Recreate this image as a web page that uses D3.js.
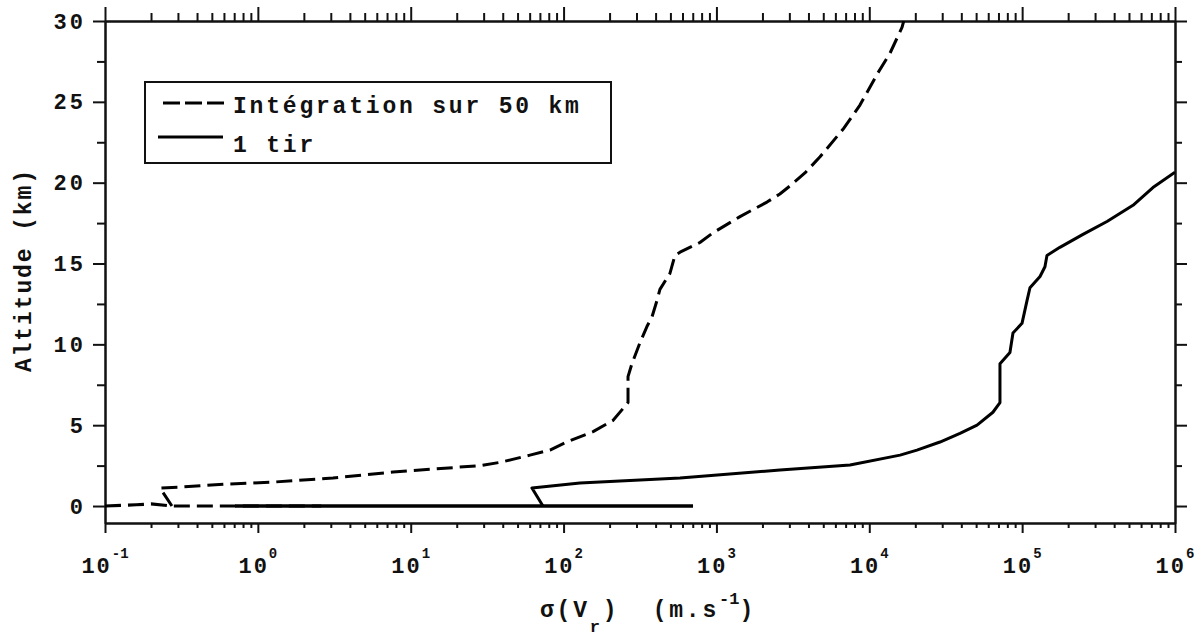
<!DOCTYPE html>
<html><head><meta charset="utf-8">
<script src="https://cdn.jsdelivr.net/npm/d3@7"></script>
<style>
body{margin:0;background:#fff}
svg text{font-family:"Liberation Mono","DejaVu Sans Mono",monospace;font-weight:bold;fill:#111}
</style>
</head><body>
<svg id="chart" width="1203" height="636"></svg>
<script>
// ---- data ----
const xMajorTicks = [0.1, 1, 10, 100, 1000, 1e4, 1e5, 1e6];
const xExponents  = ["-1", "0", "1", "2", "3", "4", "5", "6"];
const yMajorTicks = [0, 5, 10, 15, 20, 25, 30];
const yMinorTicks = [2.5, 7.5, 12.5, 17.5, 22.5, 27.5];
const seriesNames = ["Intégration sur 50 km", "1 tir"];

// "Intégration sur 50 km" (dashed): ground piece + profile
const integGroundSigma = [0.1, 0.16, 0.2, 0.274, 2.6];
const integGroundAlt   = [0.0, 0.08, 0.13, 0.0, 0.0];
const integSigma = [0.274, 0.229, 0.319, 0.628, 1.256, 3.10, 7.66, 28.4, 38.4, 60.3, 81.5, 105, 156, 211, 264, 264, 280, 316, 351, 379, 408, 427, 497, 535, 578, 780, 950, 1426, 2142, 2600, 3027, 3793, 4762, 6730, 8690, 11400, 13650, 16370, 16800];
const integAlt   = [0.0, 1.11, 1.18, 1.36, 1.48, 1.73, 2.1, 2.5, 2.7, 3.15, 3.46, 3.96, 4.6, 5.3, 6.4, 8.0, 8.8, 10.1, 11.1, 11.7, 12.7, 13.4, 14.4, 15.5, 15.7, 16.3, 16.9, 17.9, 18.8, 19.3, 19.8, 20.6, 21.6, 23.3, 24.8, 26.8, 28.0, 29.6, 30.0];

// "1 tir" (solid): ground piece + profile
const tirGroundSigma = [0.71, 38, 703];
const tirGroundAlt   = [0.0, 0.0, 0.0];
const tirSigma = [73.3, 62.1, 128, 578, 2606, 7480, 15900, 20500, 29000, 39200, 50700, 64400, 71600, 71600, 83200, 87100, 99800, 107600, 112500, 130900, 141000, 145300, 176600, 250000, 359000, 531000, 717000, 1000000];
const tirAlt   = [0.0, 1.11, 1.42, 1.73, 2.23, 2.54, 3.15, 3.46, 3.96, 4.5, 5.0, 5.8, 6.4, 8.8, 9.5, 10.7, 11.3, 12.7, 13.5, 14.2, 14.8, 15.5, 16.0, 16.8, 17.6, 18.6, 19.7, 20.65];

// ---- layout ----
const L = 105, R = 1175, T = 21, B = 523;
const svg = d3.select("#chart");
const x = d3.scaleLog().domain([0.1, 1e6]).range([L, R]);
const y = d3.scaleLinear().domain([-1.05, 30]).range([B, T]);

const xMinorTicks = [];
xMajorTicks.slice(0, -1).forEach(d => { for (let k = 2; k <= 9; k++) xMinorTicks.push(d * k); });

function styleAxis(g) {
  g.selectAll("path.domain").attr("stroke", "#111").attr("stroke-width", 2);
  g.selectAll(".tick line").attr("stroke", "#111").attr("stroke-width", 2);
  g.selectAll(".tick text").remove();
}
// bottom
svg.append("g").attr("transform", `translate(0,${B})`)
  .call(d3.axisBottom(x).tickValues(xMajorTicks).tickSize(10).tickSizeOuter(0).tickFormat("")).call(styleAxis);
svg.append("g").attr("transform", `translate(0,${B})`)
  .call(d3.axisBottom(x).tickValues(xMinorTicks).tickSize(5).tickSizeOuter(0).tickFormat("")).call(styleAxis);
// top
svg.append("g").attr("transform", `translate(0,${T})`)
  .call(d3.axisTop(x).tickValues(xMajorTicks).tickSize(14).tickSizeOuter(0).tickFormat("")).call(styleAxis);
svg.append("g").attr("transform", `translate(0,${T})`)
  .call(d3.axisTop(x).tickValues(xMinorTicks).tickSize(8).tickSizeOuter(0).tickFormat("")).call(styleAxis);
// left
svg.append("g").attr("transform", `translate(${L},0)`)
  .call(d3.axisLeft(y).tickValues(yMajorTicks).tickSize(12).tickSizeOuter(0).tickFormat("")).call(styleAxis);
svg.append("g").attr("transform", `translate(${L},0)`)
  .call(d3.axisLeft(y).tickValues(yMinorTicks).tickSize(8).tickSizeOuter(0).tickFormat("")).call(styleAxis);
// right
svg.append("g").attr("transform", `translate(${R},0)`)
  .call(d3.axisRight(y).tickValues(yMajorTicks).tickSize(12).tickSizeOuter(0).tickFormat("")).call(styleAxis);
svg.append("g").attr("transform", `translate(${R},0)`)
  .call(d3.axisRight(y).tickValues(yMinorTicks).tickSize(7).tickSizeOuter(0).tickFormat("")).call(styleAxis);

// y tick labels
svg.append("g").selectAll("text").data(yMajorTicks).join("text")
  .attr("x", 86).attr("y", d => y(d) + 7.5)
  .attr("text-anchor", "end").attr("font-size", 22).attr("letter-spacing", 3)
  .text(d => d);

// x tick labels with exponent
const xl = svg.append("g").selectAll("text").data(xMajorTicks).join("text")
  .attr("x", d => x(d)).attr("y", 573)
  .attr("text-anchor", "middle").attr("font-size", 22).attr("letter-spacing", 2);
xl.append("tspan").text("10");
xl.append("tspan").attr("dy", -15).attr("font-size", 14).attr("letter-spacing", 0)
  .text((d, i) => xExponents[i]);

// axis titles
svg.append("text")
  .attr("transform", "translate(31,271) rotate(-90)")
  .attr("text-anchor", "middle").attr("font-size", 23).attr("textLength", 202)
  .attr("lengthAdjust", "spacing")
  .text("Altitude (km)");

const xt = svg.append("text").attr("x", 540).attr("y", 617)
  .attr("font-size", 23).attr("letter-spacing", 2.8).style("white-space", "pre");
xt.append("tspan").text("σ(V");
xt.append("tspan").attr("dy", 15).attr("font-size", 17).text("r");
xt.append("tspan").attr("dy", -15).text(")  (m.s");
xt.append("tspan").attr("dy", -13).attr("font-size", 17).attr("letter-spacing", 0).text("-1");
xt.append("tspan").attr("dy", 13).text(")");

// clip
svg.append("clipPath").attr("id", "clip").append("rect")
  .attr("x", L).attr("y", T).attr("width", R - L).attr("height", B - T);

const line = d3.line().x(d => x(d[0])).y(d => y(d[1]));
const plot = svg.append("g").attr("clip-path", "url(#clip)");
const dashStyle = "16,7";

plot.append("path").datum(d3.zip(integGroundSigma, integGroundAlt))
  .attr("d", line).attr("fill", "none").attr("stroke", "#000").attr("stroke-width", 3.2)
  .attr("stroke-dasharray", dashStyle);
plot.append("path").datum(d3.zip(integSigma, integAlt))
  .attr("d", line).attr("fill", "none").attr("stroke", "#000").attr("stroke-width", 3)
  .attr("stroke-dasharray", dashStyle).attr("stroke-linejoin", "round");

plot.append("path").datum(d3.zip(tirGroundSigma, tirGroundAlt))
  .attr("d", line).attr("fill", "none").attr("stroke", "#000").attr("stroke-width", 3.5);
plot.append("path").datum(d3.zip(tirSigma, tirAlt))
  .attr("d", line).attr("fill", "none").attr("stroke", "#000").attr("stroke-width", 3)
  .attr("stroke-linejoin", "round");

// legend
const lg = svg.append("g");
lg.append("rect").attr("x", 145).attr("y", 82).attr("width", 466).attr("height", 81)
  .attr("fill", "#fff").attr("stroke", "#111").attr("stroke-width", 2);
lg.append("line").attr("x1", 163).attr("x2", 225).attr("y1", 103).attr("y2", 103)
  .attr("stroke", "#000").attr("stroke-width", 3).attr("stroke-dasharray", "17,5");
lg.append("line").attr("x1", 158).attr("x2", 223).attr("y1", 137).attr("y2", 137)
  .attr("stroke", "#000").attr("stroke-width", 3);
lg.append("text").attr("x", 233).attr("y", 113).attr("font-size", 23).attr("letter-spacing", 2.8)
  .text(seriesNames[0]);
lg.append("text").attr("x", 233).attr("y", 152).attr("font-size", 23).attr("letter-spacing", 2.8)
  .text(seriesNames[1]);
</script>
</body></html>
